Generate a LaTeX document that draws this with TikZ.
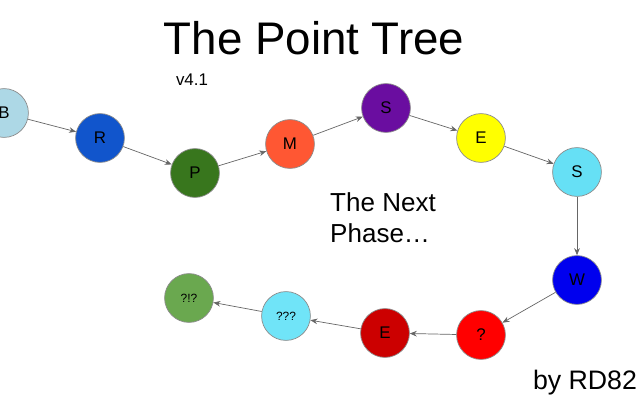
\documentclass[tikz,border=0pt]{standalone}
\usepackage{fontspec}
\setmainfont{Liberation Sans}
\usepackage{tikz}
\usetikzlibrary{arrows.meta, positioning}

\definecolor{cB}{HTML}{ADD8E6}
\definecolor{cR}{HTML}{1155CC}
\definecolor{cP}{HTML}{38761D}
\definecolor{cM}{HTML}{FF5733}
\definecolor{cS}{HTML}{6A0DA0}
\definecolor{cE}{HTML}{FFFF00}
\definecolor{cSS}{HTML}{66E0F5}
\definecolor{cW}{HTML}{0000EE}
\definecolor{cQ}{HTML}{FF0000}
\definecolor{cEE}{HTML}{CC0000}
\definecolor{cQQ}{HTML}{70E4F8}
\definecolor{cX}{HTML}{6AA84F}

\begin{document}
\begin{tikzpicture}
        [
            x=0.025cm, y=-0.025cm,
            pt/.style={circle, draw=black!45, line width=0.5pt, minimum size=1.22cm, inner sep=0pt, font=\fontsize{12}{14}\selectfont},
            small/.style={font=\fontsize{8.5}{10}\selectfont},
            link/.style={-{Stealth[length=5pt,width=4pt]}, draw=black!60, line width=0.5pt},
        ]
        \useasboundingbox (0,0) rectangle (640,400);
        \foreach \n/\x/\y/\c/\t in {b/4/113/cB/B, r/100/138/cR/R, p/195/173/cP/P, m/290/144/cM/M,
                                   s/386/108/cS/S, e/481/138/cE/E, ss/577/172/cSS/S, w/577/280/cW/W,
                                   q/481/335/cQ/?, ee/385/333/cEE/E}
            \node[pt, fill=\c] (\n) at (\x,\y) {\t};
        \node[pt, small, fill=cQQ] (qq) at (286,316) {???};
        \node[pt, small, fill=cX] (x) at (189,298) {?!?};
        \foreach \a/\b in {b/r, r/p, p/m, m/s, s/e, e/ss, ss/w, w/q, q/ee, ee/qq, qq/x}
            \draw[link] (\a) -- (\b);
        % texts
        \node[font=\fontsize{32.5}{38}\selectfont] (title) at (314,38) {The Point Tree};
        \node[font=\fontsize{12}{14}\selectfont] (ver) at (192,80) {v4.1};
        \node[font=\fontsize{18.5}{22}\selectfont, align=left] (next) at (383,218) {The Next\\Phase…};
        \node[font=\fontsize{19}{22}\selectfont] (by) at (585,383) {by RD82};
      \end{tikzpicture}
\end{document}
